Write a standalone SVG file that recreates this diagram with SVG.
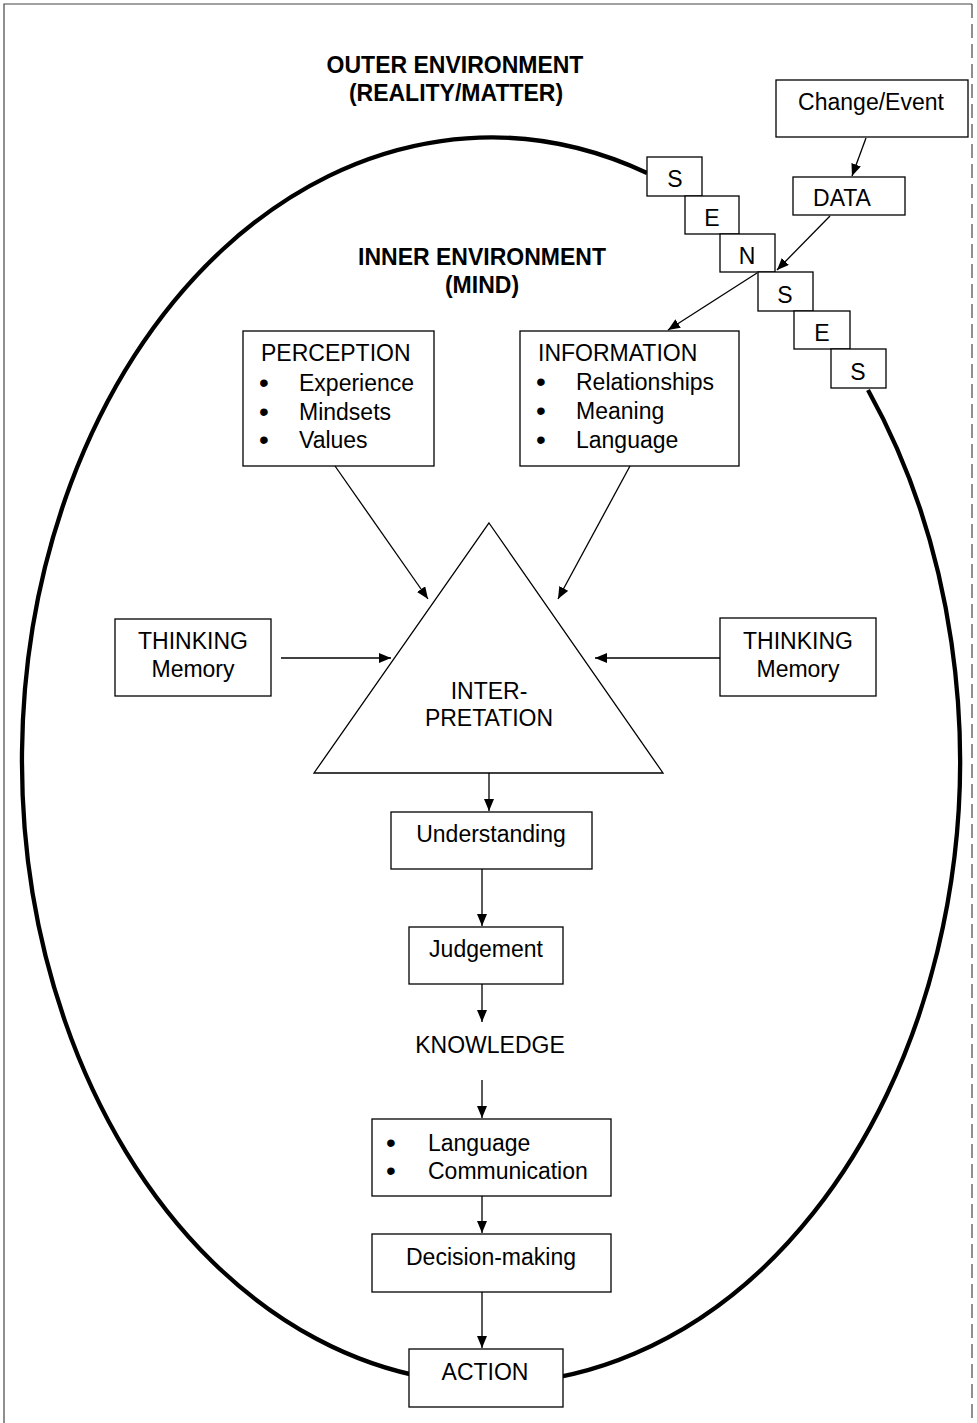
<svg xmlns="http://www.w3.org/2000/svg" width="977" height="1423" viewBox="0 0 977 1423">
<style>
.box{fill:#fff;stroke:#000;stroke-width:1.3}
.t{font-family:"Liberation Sans",Arial,sans-serif;font-size:23px;fill:#000}
.bu{font-size:28px}
.b{font-weight:bold}
.c{text-anchor:middle}
.conn line{stroke:#000;stroke-width:1.3;marker-end:url(#ah)}
.frame{fill:none;stroke:#444;stroke-width:1.2}
</style>
<defs>
<marker id="ah" viewBox="0 0 12 10" refX="12" refY="5" markerWidth="12" markerHeight="10" markerUnits="userSpaceOnUse" orient="auto">
<path d="M0,0 L12,5 L0,10 z" fill="#000"/>
</marker>
</defs>
<rect width="977" height="1423" fill="#fff"/>
<g id="frame">
<path class="frame" d="M4,1423 L4,4 L972,4"/>
<path class="frame" d="M972,4 L972,1423" stroke-dasharray="14,6"/>
</g>
<g id="outer-mind-boundary">
<path d="M868,390 A469,623 0 1 1 647,173" fill="none" stroke="#000" stroke-width="4.3"/>
</g>
<g id="headings">
<text class="t b c" x="455" y="73">OUTER ENVIRONMENT</text>
<text class="t b c" x="456" y="101">(REALITY/MATTER)</text>
<text class="t b c" x="482" y="265">INNER ENVIRONMENT</text>
<text class="t b c" x="482" y="293">(MIND)</text>
</g>
<g id="change-event"><rect class="box" x="776" y="80" width="192" height="57"/><text class="t c" x="871" y="110">Change/Event</text></g>
<g id="data"><rect class="box" x="793" y="177" width="112" height="38"/><text class="t c" x="842" y="206">DATA</text></g>
<g id="senses">
<g id="sense-s1"><rect class="box" x="647" y="157" width="55" height="39"/><text class="t c" x="675" y="187">S</text></g>
<g id="sense-e1"><rect class="box" x="685" y="196" width="54" height="38"/><text class="t c" x="712" y="226">E</text></g>
<g id="sense-n"><rect class="box" x="720" y="234" width="55" height="38"/><text class="t c" x="747" y="264">N</text></g>
<g id="sense-s2"><rect class="box" x="758" y="272" width="55" height="39"/><text class="t c" x="785" y="303">S</text></g>
<g id="sense-e2"><rect class="box" x="794" y="311" width="56" height="38"/><text class="t c" x="822" y="341">E</text></g>
<g id="sense-s3"><rect class="box" x="831" y="349" width="55" height="39"/><text class="t c" x="858" y="380">S</text></g>
</g>
<g id="perception"><rect class="box" x="243" y="331" width="191" height="135"/>
<text class="t" x="261" y="361">PERCEPTION</text>
<text class="t bu" x="259" y="392">•</text><text class="t" x="299" y="391">Experience</text>
<text class="t bu" x="259" y="421">•</text><text class="t" x="299" y="420">Mindsets</text>
<text class="t bu" x="259" y="449">•</text><text class="t" x="299" y="448">Values</text>
</g>
<g id="information"><rect class="box" x="520" y="331" width="219" height="135"/>
<text class="t" x="538" y="361">INFORMATION</text>
<text class="t bu" x="536" y="391">•</text><text class="t" x="576" y="390">Relationships</text>
<text class="t bu" x="536" y="420">•</text><text class="t" x="576" y="419">Meaning</text>
<text class="t bu" x="536" y="449">•</text><text class="t" x="576" y="448">Language</text>
</g>
<g id="interpretation"><path class="box" d="M489,523 L663,773 L314,773 Z"/>
<text class="t c" x="489" y="699">INTER-</text>
<text class="t c" x="489" y="726">PRETATION</text>
</g>
<g id="thinking-left"><rect class="box" x="115" y="619" width="156" height="77"/>
<text class="t c" x="193" y="649">THINKING</text><text class="t c" x="193" y="677">Memory</text></g>
<g id="thinking-right"><rect class="box" x="720" y="618" width="156" height="78"/>
<text class="t c" x="798" y="649">THINKING</text><text class="t c" x="798" y="677">Memory</text></g>
<g id="understanding"><rect class="box" x="391" y="812" width="201" height="57"/><text class="t c" x="491" y="842">Understanding</text></g>
<g id="judgement"><rect class="box" x="409" y="927" width="154" height="57"/><text class="t c" x="486" y="957">Judgement</text></g>
<g id="knowledge"><text class="t c" x="490" y="1053">KNOWLEDGE</text></g>
<g id="language-communication"><rect class="box" x="372" y="1119" width="239" height="77"/>
<text class="t bu" x="386" y="1152">•</text><text class="t" x="428" y="1151">Language</text>
<text class="t bu" x="386" y="1180">•</text><text class="t" x="428" y="1179">Communication</text></g>
<g id="decision-making"><rect class="box" x="372" y="1234" width="239" height="58"/><text class="t c" x="491" y="1265">Decision-making</text></g>
<g id="action"><rect class="box" x="409" y="1349" width="154" height="58"/><text class="t c" x="485" y="1380">ACTION</text></g>
<g id="connectors" class="conn">
<line x1="866" y1="138" x2="852" y2="176"/>
<line x1="830" y1="216" x2="777" y2="270"/>
<line x1="757" y1="273" x2="668" y2="330"/>
<line x1="335" y1="466" x2="428" y2="599"/>
<line x1="630" y1="466" x2="558" y2="599"/>
<line x1="281" y1="658" x2="391" y2="658"/>
<line x1="720" y1="658" x2="595" y2="658"/>
<line x1="489" y1="773" x2="489" y2="811"/>
<line x1="482" y1="869" x2="482" y2="926"/>
<line x1="482" y1="984" x2="482" y2="1022"/>
<line x1="482" y1="1080" x2="482" y2="1118"/>
<line x1="482" y1="1196" x2="482" y2="1233"/>
<line x1="482" y1="1292" x2="482" y2="1348"/>
</g>
</svg>
